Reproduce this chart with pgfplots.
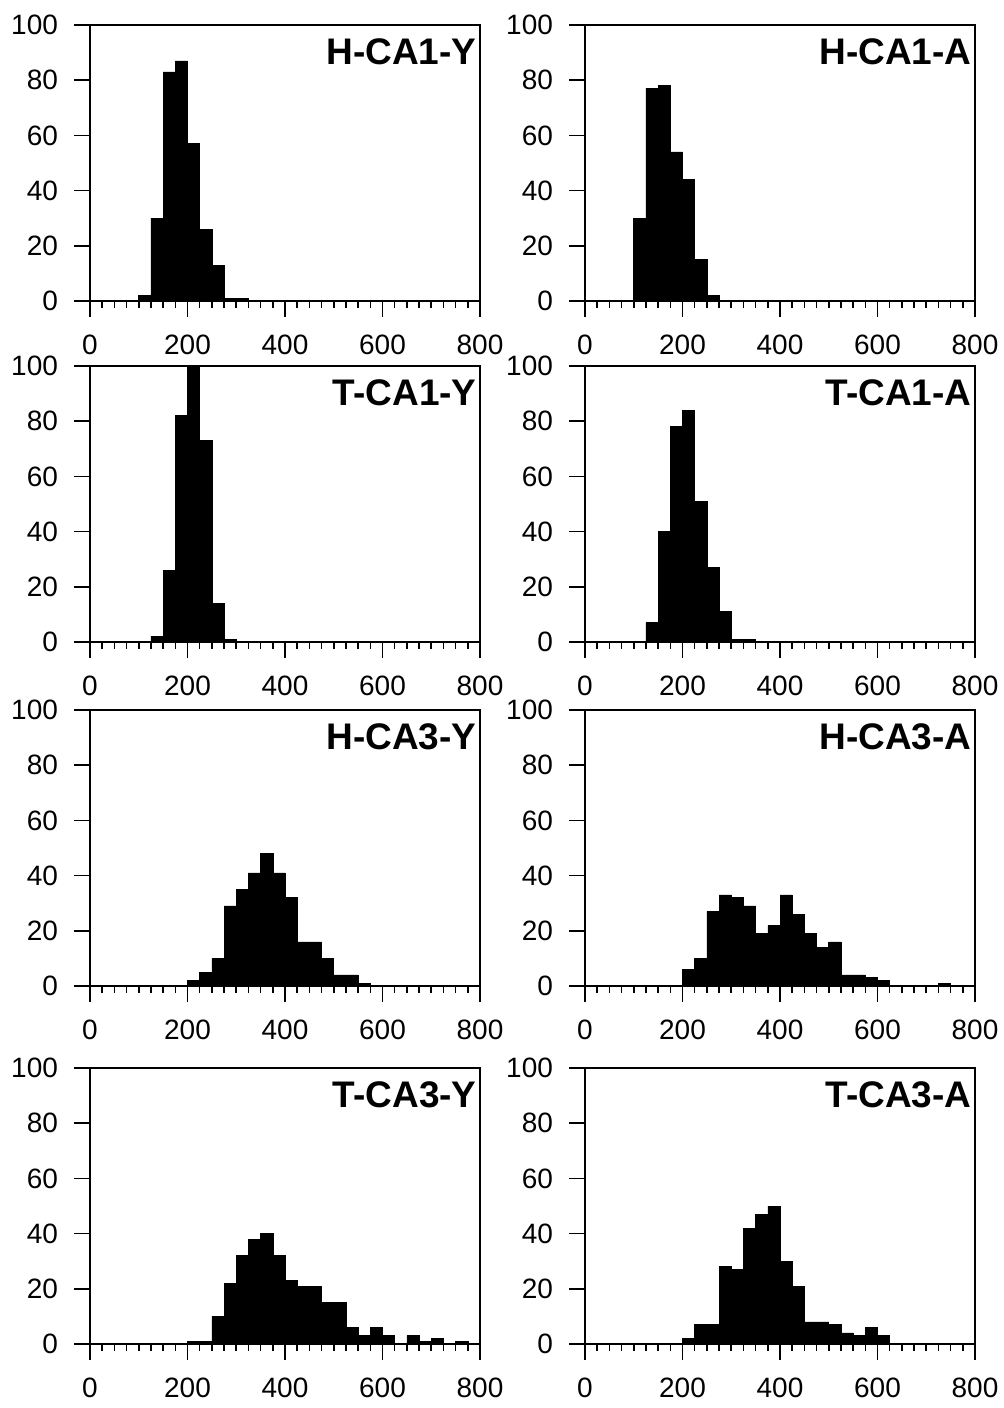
\documentclass[border=0pt]{standalone}
\usepackage{pgfplots}
\pgfplotsset{compat=1.18}
\usepackage{fontspec}
\setmainfont{Liberation Sans}

% common look of the eight histograms (bins of 25)
\pgfplotsset{
  hist/.style={
    scale only axis, width=195pt, height=138pt,
    anchor=south west,
    xmin=0, xmax=800, ymin=0, ymax=100,
    xtick={0,200,400,600,800}, ytick={0,20,40,60,80,100},
    minor x tick num=7,
    tick pos=left, tick align=outside,
    major tick length=8pt, minor tick length=3.5pt,
    every tick/.style={black, line width=0.8pt},
    axis line style={line width=0.9pt},
    tick label style={font=\fontsize{14}{16}\selectfont},
    xticklabel style={yshift=-5.5pt},
    yticklabel style={xshift=-4.5pt},
    /pgf/number format/assume math mode=true,
    axis on top,
  },
  bars/.style={ybar interval, fill=black, draw=black, line width=0.3pt},
}
\tikzset{tag/.style={anchor=north east, inner sep=0pt, xshift=-1.5pt, yshift=-6.5pt,
    font=\fontsize{18.5}{20}\selectfont\bfseries}}

\begin{document}
\begin{tikzpicture}
\useasboundingbox (0,0) rectangle (502pt,-704pt);

% row 1
\begin{axis}[hist, at={(45pt,-150.5pt)}]
\addplot[bars] coordinates {(100,2) (125,30) (150,83) (175,87) (200,57) (225,26) (250,13) (275,1) (300,1) (325,0)};
\node[tag] at (rel axis cs:1,1) {H-CA1-Y};
\end{axis}
\begin{axis}[hist, at={(292.5pt,-150.5pt)}]
\addplot[bars] coordinates {(100,30) (125,77) (150,78) (175,54) (200,44) (225,15) (250,2) (275,0)};
\node[tag] at (rel axis cs:1,1) {H-CA1-A};
\end{axis}

% row 2
\begin{axis}[hist, at={(45pt,-321pt)}]
\addplot[bars] coordinates {(125,2) (150,26) (175,82) (200,100) (225,73) (250,14) (275,1) (300,0)};
\node[tag] at (rel axis cs:1,1) {T-CA1-Y};
\end{axis}
\begin{axis}[hist, at={(292.5pt,-321pt)}]
\addplot[bars] coordinates {(125,7) (150,40) (175,78) (200,84) (225,51) (250,27) (275,11) (300,1) (325,1) (350,0)};
\node[tag] at (rel axis cs:1,1) {T-CA1-A};
\end{axis}

% row 3
\begin{axis}[hist, at={(45pt,-493pt)}]
\addplot[bars] coordinates {(200,2) (225,5) (250,10) (275,29) (300,35) (325,41) (350,48) (375,41) (400,32) (425,16) (450,16) (475,10) (500,4) (525,4) (550,1) (575,0)};
\node[tag] at (rel axis cs:1,1) {H-CA3-Y};
\end{axis}
\begin{axis}[hist, at={(292.5pt,-493pt)}]
\addplot[bars] coordinates {(200,6) (225,10) (250,27) (275,33) (300,32) (325,29) (350,19) (375,22) (400,33) (425,26) (450,19) (475,14) (500,16) (525,4) (550,4) (575,3) (600,2) (625,0) (650,0) (675,0) (700,0) (725,1) (750,0)};
\node[tag] at (rel axis cs:1,1) {H-CA3-A};
\end{axis}

% row 4
\begin{axis}[hist, at={(45pt,-672pt)}]
\addplot[bars] coordinates {(200,1) (225,1) (250,10) (275,22) (300,32) (325,38) (350,40) (375,32) (400,23) (425,21) (450,21) (475,15) (500,15) (525,6) (550,3) (575,6) (600,3) (625,0) (650,3) (675,1) (700,2) (725,0) (750,1) (775,0)};
\node[tag] at (rel axis cs:1,1) {T-CA3-Y};
\end{axis}
\begin{axis}[hist, at={(292.5pt,-672pt)}]
\addplot[bars] coordinates {(200,2) (225,7) (250,7) (275,28) (300,27) (325,42) (350,47) (375,50) (400,30) (425,21) (450,8) (475,8) (500,7) (525,4) (550,3) (575,6) (600,3) (625,0)};
\node[tag] at (rel axis cs:1,1) {T-CA3-A};
\end{axis}
\end{tikzpicture}
\end{document}
